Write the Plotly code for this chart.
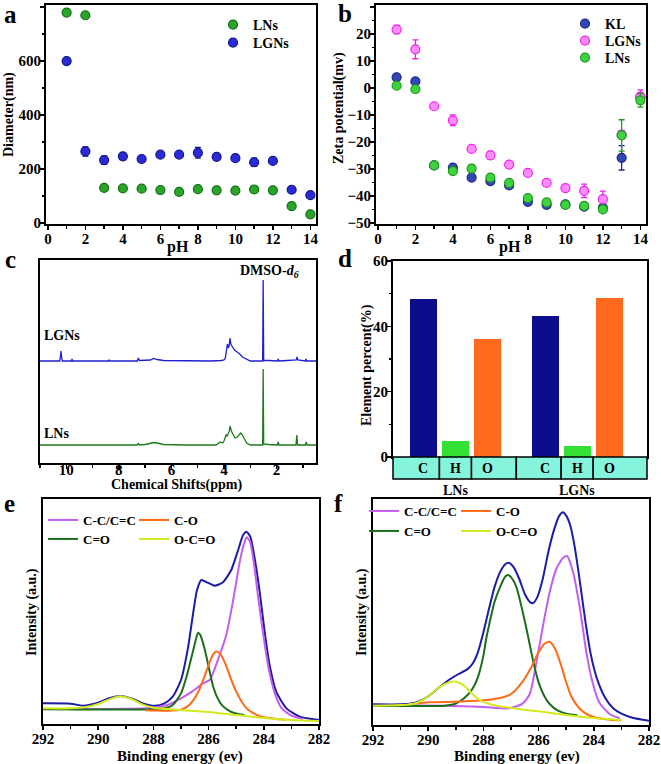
import plotly.graph_objects as go

W, H = 661, 764
FONT = "Liberation Serif, Times New Roman, serif"

# ---------------- data: panel a (diameter vs pH) ----------------
pH = list(range(1, 15))
dia_LNs = [780, 770, 130, 128, 127, 122, 115, 125, 121, 120, 124, 121, 62, 32]
dia_LNs_err = [6, 8, 5, 5, 5, 8, 12, 6, 6, 6, 5, 5, 10, 6]
dia_LGNs = [600, 265, 233, 247, 237, 253, 253, 260, 245, 240, 225, 230, 123, 103]
dia_LGNs_err = [5, 17, 15, 12, 8, 8, 6, 20, 8, 10, 15, 6, 5, 5]

# ---------------- data: panel b (zeta potential vs pH) ----------------
zeta_KL = [4.0, 2.5, -28.6, -29.4, -33.1, -34.4, -36.0, -42.1, -43.2, -43.0, -43.9, -44.3, -25.8, -3.3]
zeta_KL_err = [1, 1, 0.8, 0.8, 0.8, 0.8, 0.8, 0.8, 0.8, 0.8, 0.8, 0.8, 4.5, 1.5]
zeta_LGNs = [21.7, 14.4, -6.7, -11.9, -22.5, -24.9, -28.3, -31.4, -35.1, -37.0, -38.0, -41.1, -17.2, -3.1]
zeta_LGNs_err = [1.5, 3.5, 0.8, 2, 1, 1.5, 0.8, 0.8, 0.8, 1, 2.5, 3, 1.5, 2.5]
zeta_LNs = [0.9, -0.4, -28.6, -30.7, -29.8, -33.1, -35.1, -40.7, -42.3, -43.2, -43.6, -44.9, -17.5, -4.5]
zeta_LNs_err = [0.8, 1, 0.8, 0.8, 1.5, 0.8, 0.8, 0.8, 0.8, 0.8, 0.8, 0.8, 5.8, 2.5]

# ---------------- data: panel c (1H NMR) ----------------
nmr_LGNs_ppm = [11.0, 10.25, 10.22, 10.2, 10.18, 10.15, 9.8, 9.78, 9.76, 8.4, 8.37, 8.34,
                7.3, 7.26, 7.22, 7.0, 6.8, 6.67, 6.55, 6.3, 5.5, 4.5, 4.1, 4.0, 3.95, 3.9, 3.87,
                3.83, 3.8, 3.77, 3.74, 3.7, 3.6, 3.5, 3.4, 3.3, 3.2, 3.1, 3.0, 2.6, 2.53, 2.51,
                2.49, 2.3, 1.97, 1.94, 1.91, 1.6, 1.25, 1.22, 1.19, 0.9, 0.88, 0.85, 0.5]
nmr_LGNs_int = [0, 0, 5, 10, 4, 0, 0, 2, 0, 0, 1, 0,
                0, 3, 0.5, 0.5, 1, 2.5, 1.5, 0.5, 0, 0, 0.5, 1, 3, 10, 17,
                13, 16, 23, 17, 15, 11, 9, 7, 4, 2.5, 1, 0, 0, 0, 81,
                0.5, 0.5, 0, 2, 0, 0.5, 1, 4, 1, 0, 2, 0, 0]
nmr_LNs_ppm = [11.0, 9.0, 7.3, 7.26, 7.22, 7.0, 6.8, 6.67, 6.55, 6.3, 5.5, 4.3, 4.14, 4.05,
               4.0, 3.95, 3.92, 3.88, 3.84, 3.8, 3.77, 3.72, 3.64, 3.58, 3.5, 3.42, 3.36,
               3.3, 3.2, 3.14, 3.0, 2.6, 2.53, 2.51, 2.49, 2.3, 1.97, 1.94, 1.91, 1.6, 1.26,
               1.23, 1.2, 0.9, 0.87, 0.84, 0.5]
nmr_LNs_int = [0, 0, 0, 2, 0, 0.5, 1.5, 2.5, 2, 0.5, 0, 0, 3, 2,
               4, 7, 10, 9, 12, 14, 19, 14, 10, 7, 8, 10, 12,
               10, 5, 2, 0, 0, 0, 76, 1, 0.5, 0, 3, 0, 0, 0,
               10, 0, 0, 3, 0, 0]
nmr_offset_LGNs = 102
nmr_offset_LNs = 18

# ---------------- data: panel d (element percent) ----------------
groups = ["LNs", "LGNs"]
elements = ["C", "H", "O"]
elem_LNs = [48.3, 4.8, 36.2]
elem_LGNs = [43.2, 3.3, 48.7]
elem_colors = ["#0c0c8c", "#33e033", "#ff6a1e"]

# ---------------- data: panel e (XPS C1s, LNs) ----------------
e_env_x = [292.0, 291.0, 290.55, 290.07, 289.6, 289.2, 288.74, 288.38, 287.95, 287.6, 287.3, 287.0,
           286.75, 286.57, 286.42, 286.26, 286.06, 285.78, 285.48, 285.18, 284.93, 284.75, 284.63,
           284.49, 284.33, 284.15, 283.97, 283.79, 283.55, 283.18, 282.7, 282.0]
e_env_y = [5.5, 5.4, 4.8, 5.5, 7.0, 7.7, 6.8, 5.5, 4.8, 5.5, 7.5, 12.5,
           22, 32, 39.5, 42.5, 41.8, 40.8, 41.8, 45.5, 51.5, 56, 57,
           55.5, 49, 39, 27, 17, 9, 4, 1.5, 0.5]
e_cc_x = [292.0, 289.0, 288.0, 287.5, 287.0, 286.6, 286.2, 285.96, 285.6, 285.36, 285.12, 284.87,
          284.75, 284.62, 284.5, 284.35, 284.2, 284.0, 283.8, 283.6, 283.35, 283.0, 282.6]
e_cc_y = [3.8, 3.9, 4.2, 5.0, 7.0, 9.0, 11.5, 12.5, 20, 26, 36, 48,
          52.5, 55.3, 54, 47, 37, 25, 15, 8.5, 4, 1.8, 0.8]
e_co_x = [288.3, 287.5, 287.0, 286.7, 286.4, 286.2, 286.0, 285.85, 285.74, 285.6, 285.4, 285.2,
          285.0, 284.8, 284.6, 284.3, 284.0, 283.6, 283.2]
e_co_y = [3.4, 3.3, 3.6, 5, 8.5, 12.5, 17, 20, 21, 20.5, 17.5, 13,
          9, 6, 3.8, 2.2, 1.3, 0.9, 0.6]
e_cdo_x = [292.0, 288.0, 287.6, 287.3, 287.0, 286.8, 286.6, 286.45, 286.38, 286.3, 286.15, 286.0,
           285.85, 285.7, 285.5, 285.2, 284.9, 284.7]
e_cdo_y = [3.7, 3.7, 4.0, 5.0, 8.5, 13.5, 20, 25, 26.7, 26, 22, 16.5,
           11, 7.5, 4.8, 3.0, 2.2, 2.0]
e_occ_x = [292.0, 291.0, 290.5, 290.0, 289.6, 289.2, 288.8, 288.4, 288.0, 287.5, 287.0, 286.0,
           285.0, 284.0, 283.0, 282.0]
e_occ_y = [4.0, 4.0, 4.3, 5.3, 6.7, 7.6, 6.8, 5.2, 4.2, 3.8, 3.5, 2.9,
           2.0, 1.1, 0.5, 0.2]

# ---------------- data: panel f (XPS C1s, LGNs) ----------------
f_env_x = [292.0, 291.0, 290.5, 290.0, 289.6, 289.2, 288.9, 288.6, 288.4, 288.2, 288.0, 287.8,
           287.6, 287.4, 287.2, 287.08, 286.9, 286.7, 286.5, 286.3, 286.2, 286.05, 285.85, 285.65,
           285.45, 285.25, 285.12, 285.0, 284.85, 284.7, 284.5, 284.3, 284.1, 283.9, 283.6, 283.3,
           283.0, 282.6, 282.0]
f_env_y = [6.4, 6.4, 6.8, 8.8, 11.5, 14, 15.5, 16.8, 18.5, 22, 28, 35,
           41.5, 46, 48.5, 48.9, 47.5, 44, 39.5, 37, 36.8, 38.5, 44, 52,
           58.5, 63, 64, 63, 60, 54, 43, 31, 21, 14.5, 8.5, 5.2,
           3.6, 2.4, 1.5]
f_cc_x = [292.0, 289.3, 288.0, 287.05, 286.57, 286.32, 286.08, 285.84, 285.6, 285.36, 285.12,
          284.97, 284.75, 284.5, 284.27, 284.03, 283.79, 283.43, 283.06]
f_cc_y = [6.0, 6.0, 5.6, 5.2, 6.7, 9.5, 19, 30, 40, 47, 50.3,
          50.9, 46, 35, 22, 12.5, 6.8, 3.5, 2.2]
f_co_x = [290.7, 290.0, 289.0, 288.0, 287.4, 287.0, 286.6, 286.3, 286.0, 285.8, 285.6, 285.4,
          285.2, 285.0, 284.8, 284.5, 284.2, 283.9, 283.4, 283.0]
f_co_y = [6.4, 7.0, 7.2, 7.6, 8.3, 9.5, 13, 17, 22, 24.5, 25.2, 23,
          18.5, 13, 8.5, 5, 3.2, 2.4, 1.8, 1.6]
f_cdo_x = [292.0, 289.4, 289.0, 288.7, 288.4, 288.2, 288.0, 287.9, 287.8, 287.6, 287.4, 287.2,
           287.1, 286.95, 286.8, 286.6, 286.4, 286.2, 286.0, 285.8, 285.6, 285.3, 285.0, 284.6]
f_cdo_y = [6.0, 6.0, 6.6, 8.2, 11, 14.5, 21, 26, 30, 37, 41.5, 44.8,
           45.2, 44, 41.5, 35, 27.5, 19.5, 13, 9, 6.5, 4.5, 3.6, 3.1]
f_occ_x = [292.0, 291.0, 290.5, 290.0, 289.6, 289.3, 289.0, 288.7, 288.4, 288.1, 287.7, 287.0,
           286.0, 285.0, 284.0, 283.0]
f_occ_y = [6.0, 6.2, 6.6, 8.8, 11.5, 12.8, 13.2, 12, 9.5, 7.5, 6.3, 5.3,
           4.3, 3.2, 2.3, 1.7]

xps_colors = {"C-C/C=C": "#c45ef0", "C-O": "#ff6a14", "C=O": "#1c6e1c", "O-C=O": "#d2ea1e"}
env_color = "#1c1ca8"

# ---------------- layout helpers ----------------
def xdom(l, r):
    return [l / W, r / W]

def ydom(top, bottom):
    return [1 - bottom / H, 1 - top / H]

def px(x, y):
    return x / W, 1 - y / H

def axis(domain, rng, dtick=None, minor_dtick=None, labels=True, ticks=True, anchor=None,
         standoff=-4):
    d = dict(domain=domain, range=rng, showline=True, linewidth=2, linecolor="black",
             mirror=True, showgrid=False, zeroline=False, anchor=anchor, automargin=False,
             tickfont=dict(family=FONT, size=15, color="black", weight="bold"),
             showticklabels=labels, fixedrange=True, ticklabelstandoff=standoff)
    if ticks:
        d.update(ticks="outside", ticklen=4, tickwidth=1.5, tickcolor="black", dtick=dtick, tick0=0)
        if minor_dtick:
            d["minor"] = dict(ticks="outside", ticklen=2.5, tickwidth=1.5, tickcolor="black",
                              dtick=minor_dtick, tick0=0)
    else:
        d.update(ticks="")
    return d

# one legend box per legend entry, placed at its row (left x, row centre y in px)
legend_boxes = {}
def leg(name, x, yc, size=14):
    xx, yy = px(x, yc - 15)
    legend_boxes[name] = dict(x=xx, y=yy, xanchor="left", yanchor="top", bgcolor="rgba(0,0,0,0)",
                              font=dict(family=FONT, size=size, color="black", weight="bold"),
                              tracegroupgap=0, itemwidth=30, borderwidth=0)
    return name

fig = go.Figure()

def scat(x, y, err, name, fill, edge, xa, ya, legend, size=9):
    fig.add_trace(go.Scatter(
        x=x, y=y, mode="markers", name=name, xaxis=xa, yaxis=ya, legend=legend,
        marker=dict(size=size, color=fill, line=dict(color=edge, width=1.2)),
        error_y=dict(type="data", array=err, color=edge, thickness=1.3, width=3)))

# panel a
scat(pH, dia_LNs, dia_LNs_err, "LNs", "#2aa52a", "#126e12", "x", "y", leg("legend", 213, 24))
scat(pH, dia_LGNs, dia_LGNs_err, "LGNs", "#2b2bd6", "#14148f", "x", "y", leg("legend2", 213, 42))

# panel b
scat(pH, zeta_KL, zeta_KL_err, "KL", "#3346b8", "#1c2a80", "x2", "y2", leg("legend3", 565, 23))
scat(pH, zeta_LGNs, zeta_LGNs_err, "LGNs", "#ff8cff", "#ee22ee", "x2", "y2", leg("legend4", 565, 40))
scat(pH, zeta_LNs, zeta_LNs_err, "LNs", "#3fd23f", "#1e9a1e", "x2", "y2", leg("legend5", 565, 57))

# panel c
fig.add_trace(go.Scatter(x=nmr_LGNs_ppm, y=[v + nmr_offset_LGNs for v in nmr_LGNs_int],
                         mode="lines", line=dict(color="#1f1fd0", width=1.3),
                         xaxis="x3", yaxis="y3", showlegend=False))
fig.add_trace(go.Scatter(x=nmr_LNs_ppm, y=[v + nmr_offset_LNs for v in nmr_LNs_int],
                         mode="lines", line=dict(color="#1c7a1c", width=1.3),
                         xaxis="x3", yaxis="y3", showlegend=False))

# panel d
group_gap = 3.8
bar_pos, bar_val, bar_col = [], [], []
for gi, vals in enumerate([elem_LNs, elem_LGNs]):
    for ei, v in enumerate(vals):
        bar_pos.append(gi * group_gap + ei)
        bar_val.append(v)
        bar_col.append(elem_colors[ei])
fig.add_trace(go.Bar(x=bar_pos, y=bar_val, marker=dict(color=bar_col, line=dict(width=0)),
                     width=0.84, xaxis="x4", yaxis="y4", showlegend=False))

# panels e, f
def xps(env_x, env_y, comps, xa, ya, legends):
    fig.add_trace(go.Scatter(x=env_x, y=env_y, mode="lines",
                             line=dict(color=env_color, width=2, shape="spline", smoothing=0.6),
                             xaxis=xa, yaxis=ya, showlegend=False))
    for name, (cx, cy) in comps.items():
        fig.add_trace(go.Scatter(x=cx, y=cy, mode="lines", name=name,
                                 line=dict(color=xps_colors[name], width=2, shape="spline", smoothing=0.6),
                                 xaxis=xa, yaxis=ya, legend=legends[name]))

xps(e_env_x, e_env_y, {"C-C/C=C": (e_cc_x, e_cc_y), "C=O": (e_cdo_x, e_cdo_y),
                       "C-O": (e_co_x, e_co_y), "O-C=O": (e_occ_x, e_occ_y)},
    "x5", "y5", {"C-C/C=C": leg("legend6", 43, 520, 13), "C=O": leg("legend7", 43, 539, 13),
                 "C-O": leg("legend8", 134, 520, 13), "O-C=O": leg("legend9", 134, 539, 13)})
xps(f_env_x, f_env_y, {"C-C/C=C": (f_cc_x, f_cc_y), "C=O": (f_cdo_x, f_cdo_y),
                       "C-O": (f_co_x, f_co_y), "O-C=O": (f_occ_x, f_occ_y)},
    "x6", "y6", {"C-C/C=C": leg("legend10", 364, 511, 13), "C=O": leg("legend11", 364, 531, 13),
                 "C-O": leg("legend12", 456, 511, 13), "O-C=O": leg("legend13", 456, 531, 13)})

# ---------------- axes ----------------
d_range = [-0.95, 6.98]
layout = dict(
    xaxis=axis(xdom(46, 316), [-0.1, 14.3], 2, 1, anchor="y"),
    yaxis=axis(ydom(5, 224), [-4, 808], 200, 100, anchor="x"),
    xaxis2=axis(xdom(376, 646), [-0.1, 14.3], 2, 1, anchor="y2"),
    yaxis2=axis(ydom(5, 224), [-50.3, 30.8], 10, 5, anchor="x2"),
    xaxis3=axis(xdom(40, 316), [11, 0.5], 2, 1, anchor="y3", standoff=-12),
    yaxis3=axis(ydom(260, 463), [0, 203], labels=False, ticks=False, anchor="x3"),
    xaxis4=axis(xdom(393, 647), d_range, labels=False, ticks=False, anchor="y4"),
    yaxis4=axis(ydom(261, 457), [0, 60], 20, 10, anchor="x4"),
    xaxis5=axis(xdom(43, 319), [292, 282], 2, 1, anchor="y5", standoff=-4),
    yaxis5=axis(ydom(499, 724), [-0.7, 66.8], labels=False, ticks=False, anchor="x5"),
    xaxis6=axis(xdom(373, 649), [292, 282], 2, 1, anchor="y6", standoff=-4),
    yaxis6=axis(ydom(499, 725), [0.2, 68], labels=False, ticks=False, anchor="x6"),
)
layout.update(legend_boxes)

# ---------------- annotations ----------------
ann = []
def text(x, y, s, size=14, xanchor="center", yanchor="middle", angle=0, weight="bold"):
    xx, yy = px(x, y)
    ann.append(dict(x=xx, y=yy, xref="paper", yref="paper", text=s, showarrow=False,
                    xanchor=xanchor, yanchor=yanchor, textangle=angle,
                    font=dict(family=FONT, size=size, color="black", weight=weight)))

# panel letters
text(2, 14, "a", 25, xanchor="left")
text(336, 13, "b", 25, xanchor="left")
text(3, 259, "c", 25, xanchor="left")
text(336, 258, "d", 25, xanchor="left")
text(2, 503, "e", 25, xanchor="left")
text(332, 503, "f", 25, xanchor="left")

# axis titles
text(178, 247, "pH", 16)
text(510, 247, "pH", 16)
text(9, 115, "Diameter(nm)", 14, angle=-90)
text(339, 108, "Zeta potential(mv)", 14, angle=-90)
text(176, 485, "Chemical Shifts(ppm)", 14)
text(367, 365, "Element percent(%)", 14, angle=-90)
text(180, 756, "Binding energy (ev)", 15)
text(517, 756, "Binding energy (ev)", 15)
text(32, 612, "Intensity (a.u.)", 14, angle=-90)
text(362, 612, "Intensity (a.u.)", 14, angle=-90)

# panel c labels
text(42, 335, "LGNs", 14, xanchor="left")
text(42, 433, "LNs", 14, xanchor="left")
text(269, 271, "DMSO-<i>d</i><sub><i>6</i></sub>", 14)

# panel d category strip
shapes = []
strip_h = 22 / (457 - 261)
edges = [d_range[0]] + [(bar_pos[i] + bar_pos[i + 1]) / 2 for i in range(len(bar_pos) - 1)] + [d_range[1]]
span = d_range[1] - d_range[0]
for i in range(len(bar_pos)):
    x0 = (edges[i] - d_range[0]) / span
    x1 = (edges[i + 1] - d_range[0]) / span
    shapes.append(dict(type="rect", xref="x4 domain", yref="y4 domain", x0=x0, x1=x1,
                       y0=-strip_h, y1=0, fillcolor="#84f4dc", line=dict(color="black", width=1.5),
                       layer="above"))
    ann.append(dict(x=bar_pos[i], y=-strip_h / 2, xref="x4", yref="y4 domain",
                    text=elements[i % 3], showarrow=False, yanchor="middle", xanchor="center",
                    font=dict(family=FONT, size=14, color="black", weight="bold")))
for gi, g in enumerate(groups):
    ann.append(dict(x=gi * group_gap + 1, y=-strip_h - 0.06, xref="x4", yref="y4 domain",
                    text=g, showarrow=False, yanchor="middle", xanchor="center",
                    font=dict(family=FONT, size=14, color="black", weight="bold")))

layout.update(annotations=ann, shapes=shapes)

fig.update_layout(**layout)
fig.update_layout(width=W, height=H, margin=dict(l=0, r=0, t=0, b=0, pad=0, autoexpand=False),
                  paper_bgcolor="white", plot_bgcolor="white", bargap=0, hovermode=False,
                  font=dict(family=FONT, color="black"))

fig.write_html("out.html", config={"displayModeBar": False, "staticPlot": True},
               post_script="document.body.style.margin='0';document.body.style.padding='0';")
